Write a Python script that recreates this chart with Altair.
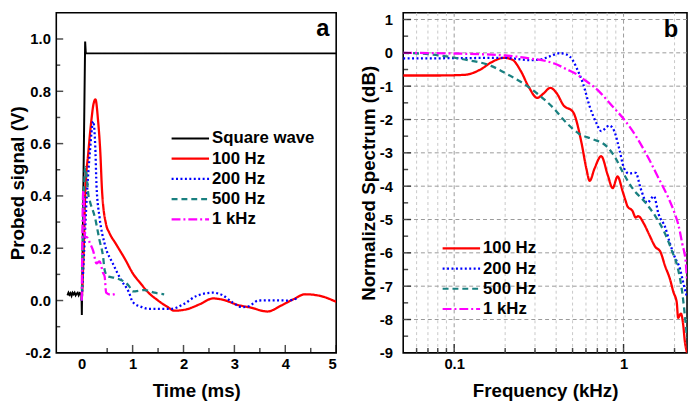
import altair as alt
import pandas as pd

FONT = "Liberation Sans"

# ---------------- Panel a data (time domain) ----------------
A_NAMES = ["Square wave", "100 Hz", "200 Hz", "500 Hz", "1 kHz"]
A_COLORS = ["#000000", "#ff0000", "#0000ff", "#1a8080", "#ff00ff"]
A_DASH = [[1, 0], [1, 0], [2, 2.5], [6, 4], [9, 3, 2, 3]]

SQ_T = [-0.28, -0.26, -0.24, -0.22, -0.2, -0.18, -0.16, -0.14, -0.12, -0.1, -0.08, -0.06, -0.04, -0.02,
        -0.005, 0.002, 0.067, 0.08, 5.0]
SQ_V = [0.02, 0.03, 0.022, 0.028, 0.018, 0.03, 0.024, 0.03, 0.02, 0.026, 0.03, 0.02, 0.028, 0.024,
        0.03, -0.055, 0.99, 0.945, 0.945]

R100_T = [0.0, 0.04, 0.067, 0.13, 0.19, 0.23, 0.27, 0.32, 0.365, 0.40, 0.48, 0.54, 0.67, 0.86, 1.0,
          1.18, 1.24, 1.5, 1.69, 1.82, 2.07, 2.32, 2.58, 2.83, 3.02, 3.34, 3.65, 3.91, 4.16, 4.39,
          4.68, 5.0]
R100_V = [0.0, 0.2, 0.40, 0.567, 0.69, 0.75, 0.769, 0.69, 0.567, 0.417, 0.29, 0.26, 0.217, 0.155,
          0.105, 0.06, 0.045, 0.0, -0.025, -0.039, -0.033, -0.014, 0.008, 0.0, -0.014, -0.028,
          -0.042, -0.02, 0.005, 0.024, 0.018, -0.005]

B200_T = [0.0, 0.05, 0.1, 0.16, 0.225, 0.27, 0.29, 0.35, 0.45, 0.61, 0.77, 0.93, 1.0, 1.18, 1.31,
          1.75, 2.0, 2.26, 2.58, 2.77, 2.96, 3.15, 3.28, 3.47, 3.79, 4.05, 4.22]
B200_V = [0.0, 0.2, 0.40, 0.567, 0.685, 0.567, 0.44, 0.318, 0.217, 0.142, 0.08, 0.03, -0.005,
          -0.025, -0.032, -0.032, -0.014, 0.018, 0.03, 0.02, -0.007, -0.025, -0.022, 0.0, 0.001,
          0.0, 0.008]

T500_T = [0.0, 0.03, 0.067, 0.1, 0.13, 0.16, 0.26, 0.35, 0.42, 0.45, 0.51, 0.67, 0.93, 1.0, 1.24,
          1.43, 1.62]
T500_V = [0.0, 0.3, 0.51, 0.467, 0.405, 0.38, 0.317, 0.23, 0.167, 0.117, 0.092, 0.086, 0.055,
          0.035, 0.04, 0.03, 0.024]

M1K_T = [0.0, 0.03, 0.067, 0.1, 0.16, 0.225, 0.29, 0.35, 0.42, 0.45, 0.48, 0.57, 0.70]
M1K_V = [0.0, 0.42, 0.242, 0.242, 0.22, 0.19, 0.142, 0.15, 0.105, 0.092, 0.03, 0.022, 0.028]

A_XTICKS = [0, 1, 2, 3, 4, 5]
A_XMINOR = [0.5, 1.5, 2.5, 3.5, 4.5]
A_YTICKS = [-0.2, 0.0, 0.2, 0.4, 0.6, 0.8, 1.0]
A_YMINOR = [-0.1, 0.1, 0.3, 0.5, 0.7, 0.9]

# ---------------- Panel b data (spectrum) ----------------
B_NAMES = ["100 Hz", "200 Hz", "500 Hz", "1 kHz"]
B_COLORS = ["#ff0000", "#0000ff", "#1a8080", "#ff00ff"]
B_DASH = [[1, 0], [2, 2.5], [6, 4], [9, 3, 2, 3]]

F100 = [0.05, 0.08, 0.115, 0.144, 0.165, 0.197, 0.221, 0.247, 0.276, 0.309, 0.337, 0.369, 0.404,
        0.44, 0.504, 0.564, 0.603, 0.631, 0.674, 0.738, 0.807, 0.862, 0.922, 0.987, 1.03, 1.054,
        1.128, 1.18, 1.22, 1.32, 1.41, 1.54, 1.65, 1.76, 1.88, 1.97, 2.06, 2.1, 2.18, 2.25, 2.3,
        2.37]
D100 = [-0.68, -0.68, -0.66, -0.49, -0.29, -0.15, -0.21, -0.54, -1.03, -1.35, -1.22, -1.05, -1.22,
        -1.56, -1.78, -2.69, -3.47, -3.84, -3.47, -3.1, -3.67, -4.06, -3.71, -4.15, -4.45, -4.6,
        -4.74, -4.94, -4.9, -5.13, -5.43, -5.82, -5.97, -6.4, -6.79, -7.18, -7.48, -7.95, -7.82,
        -8.16, -8.65, -9.0]

F200 = [0.05, 0.1, 0.2, 0.282, 0.323, 0.369, 0.422, 0.46, 0.504, 0.527, 0.577, 0.631, 0.69, 0.738,
        0.824, 0.882, 0.943, 1.008, 1.078, 1.18, 1.26, 1.38, 1.51, 1.61, 1.76, 1.88, 2.0, 2.16,
        2.25, 2.37]
D200 = [-0.17, -0.16, -0.15, -0.22, -0.2, -0.1, -0.01, -0.05, -0.24, -0.44, -0.93, -1.61, -2.1,
        -2.35, -2.18, -2.35, -2.88, -3.47, -3.62, -3.6, -4.06, -4.5, -4.3, -4.84, -5.23, -5.72,
        -6.11, -6.5, -6.89, -7.33]

F500 = [0.05, 0.074, 0.115, 0.165, 0.206, 0.258, 0.309, 0.386, 0.46, 0.551, 0.66, 0.789, 0.902,
        0.987, 1.128, 1.35, 1.54, 1.76, 1.92, 2.1, 2.22, 2.3, 2.37]
D500 = [0.0, -0.05, -0.2, -0.39, -0.64, -0.93, -1.22, -1.66, -2.1, -2.44, -2.59, -2.79, -3.18,
        -3.57, -4.06, -4.5, -4.9, -5.43, -5.91, -6.5, -7.18, -7.87, -8.55]

F1K = [0.05, 0.1, 0.2, 0.29, 0.35, 0.39, 0.46, 0.527, 0.577, 0.721, 0.862, 1.008, 1.18, 1.41,
       1.61, 1.84, 2.0, 2.1, 2.22, 2.33, 2.37]
D1K = [0.0, -0.02, -0.08, -0.18, -0.25, -0.32, -0.49, -0.64, -0.78, -1.17, -1.61, -2.0, -2.49,
       -3.18, -3.76, -4.35, -4.8, -5.13, -5.72, -6.3, -6.8]

B_XTICKS = [0.1, 1]
B_XMINOR = [0.06, 0.07, 0.08, 0.09, 0.2, 0.3, 0.4, 0.5, 0.6, 0.7, 0.8, 0.9, 2]
B_YTICKS = [-9, -8, -7, -6, -5, -4, -3, -2, -1, 0, 1]
B_YGRID = [-8, -7, -6, -5, -4, -3, -2, -1, 0, 1]
B_YMINOR = [-8.5, -7.5, -6.5, -5.5, -4.5, -3.5, -2.5, -1.5, -0.5, 0.5]


def long_df(names, xs, ys, xn, yn):
    frames = []
    for n, x, y in zip(names, xs, ys):
        frames.append(pd.DataFrame({xn: x, yn: y, "series": n}))
    return pd.concat(frames, ignore_index=True)


df_a = long_df(A_NAMES, [SQ_T, R100_T, B200_T, T500_T, M1K_T], [SQ_V, R100_V, B200_V, T500_V, M1K_V], "t", "v")
df_b = long_df(B_NAMES, [F100, F200, F500, F1K], [D100, D200, D500, D1K], "f", "d")

W_A, W_B, H = 284, 288, 345
MINUS = "\u2212"

XA = alt.Scale(domain=[-0.5, 5], nice=False, zero=False)
YA = alt.Scale(domain=[-0.2, 1.1], nice=False, zero=False)
XB = alt.Scale(type="log", domain=[0.05, 2.37], nice=False)
YB = alt.Scale(domain=[-9, 1.2], nice=False, zero=False)

AX_XA = alt.Axis(values=A_XTICKS, format="d", title="Time (ms)", labelPadding=4, titlePadding=10)
AX_YA = alt.Axis(values=A_YTICKS, title="Probed signal (V)",
                 labelExpr="replace(format(datum.value, '.1f'), '" + MINUS + "', '-')",
                 labelPadding=6, titlePadding=-3)
AX_XB = alt.Axis(values=B_XTICKS, format="~g", title="Frequency (kHz)", labelPadding=4, titlePadding=10)
AX_YB = alt.Axis(values=B_YTICKS, format="d", title="Normalized Spectrum (dB)",
                 labelExpr="replace(datum.label, '" + MINUS + "', '-')",
                 labelPadding=11, titlePadding=1)

# legend: a custom horizontal path twice as long as sqrt(symbolSize) keeps the rows tight
SYM = 361  # sqrt = 19 -> line length 38


def legend(x, y):
    return alt.Legend(title=None, orient="none", legendX=x, legendY=y, symbolType="M-2,0H2",
                      symbolSize=SYM, symbolStrokeWidth=2.2, symbolOffset=4,
                      labelFontSize=17, labelFontWeight="bold", labelFont=FONT, labelColor="black",
                      rowPadding=1.5, labelOffset=11, padding=0)


def xticks(vals, field, scale, axis, length):
    return alt.Chart(pd.DataFrame({field: vals})).mark_tick(
        orient="vertical", size=length, thickness=1.5, color="black").encode(
        x=alt.X(field + ":Q", scale=scale, axis=axis), y=alt.value(H - length / 2))


def yticks(vals, field, scale, axis, length):
    return alt.Chart(pd.DataFrame({field: vals})).mark_tick(
        orient="horizontal", size=length, thickness=1.5, color="black").encode(
        y=alt.Y(field + ":Q", scale=scale, axis=axis), x=alt.value(length / 2))


# ---------------- Panel a ----------------
leg_a = legend(121, 116.5)
enc_a = dict(
    x=alt.X("t:Q", scale=XA, axis=AX_XA),
    y=alt.Y("v:Q", scale=YA, axis=AX_YA),
    color=alt.Color("series:N", scale=alt.Scale(domain=A_NAMES, range=A_COLORS), sort=A_NAMES, legend=leg_a),
    strokeDash=alt.StrokeDash("series:N", scale=alt.Scale(domain=A_NAMES, range=A_DASH), sort=A_NAMES, legend=leg_a),
)
square_a = alt.Chart(df_a).transform_filter(alt.datum.series == "Square wave").mark_line(
    strokeWidth=2, clip=True).encode(**enc_a)
curves_a = alt.Chart(df_a).transform_filter(alt.datum.series != "Square wave").mark_line(
    strokeWidth=2.3, clip=True, interpolate="monotone").encode(**enc_a)

lab_a = alt.Chart(pd.DataFrame({"lab": ["a"]})).mark_text(
    align="right", baseline="alphabetic", fontSize=24, fontWeight="bold", font=FONT, color="black"
).encode(text="lab:N", x=alt.value(W_A - 7), y=alt.value(24))

panel_a = alt.layer(
    square_a, curves_a,
    xticks(A_XTICKS[1:], "t", XA, AX_XA, 8), xticks(A_XMINOR, "t", XA, AX_XA, 5),
    yticks(A_YTICKS[1:], "v", YA, AX_YA, 7), yticks(A_YMINOR, "v", YA, AX_YA, 4),
    lab_a,
).properties(width=W_A, height=H)

# ---------------- Panel b ----------------
leg_b = legend(44, 228)
grid_minor = alt.Chart(pd.DataFrame({"f": B_XMINOR})).mark_rule(
    color="#c8c8c8", strokeWidth=1, strokeDash=[3, 3]).encode(x=alt.X("f:Q", scale=XB, axis=AX_XB))
grid_major = alt.Chart(pd.DataFrame({"f": B_XTICKS})).mark_rule(
    color="#999999", strokeWidth=1, strokeDash=[4, 3]).encode(x=alt.X("f:Q", scale=XB, axis=AX_XB))
grid_y = alt.Chart(pd.DataFrame({"d": B_YGRID})).mark_rule(
    color="#999999", strokeWidth=1, strokeDash=[4, 3]).encode(y=alt.Y("d:Q", scale=YB, axis=AX_YB))

lines_b = alt.Chart(df_b).mark_line(strokeWidth=2.3, clip=True, interpolate="monotone").encode(
    x=alt.X("f:Q", scale=XB, axis=AX_XB),
    y=alt.Y("d:Q", scale=YB, axis=AX_YB),
    color=alt.Color("series:N", scale=alt.Scale(domain=B_NAMES, range=B_COLORS), sort=B_NAMES, legend=leg_b),
    strokeDash=alt.StrokeDash("series:N", scale=alt.Scale(domain=B_NAMES, range=B_DASH), sort=B_NAMES, legend=leg_b),
)

lab_b = alt.Chart(pd.DataFrame({"lab": ["b"]})).mark_text(
    align="right", baseline="alphabetic", fontSize=24, fontWeight="bold", font=FONT, color="black"
).encode(text="lab:N", x=alt.value(W_B - 9), y=alt.value(25))

panel_b = alt.layer(
    grid_minor, grid_major, grid_y,
    lines_b,
    xticks(B_XTICKS, "f", XB, AX_XB, 9), xticks(B_XMINOR, "f", XB, AX_XB, 5),
    yticks(B_YTICKS[1:], "d", YB, AX_YB, 8), yticks(B_YMINOR, "d", YB, AX_YB, 5),
    lab_b,
).properties(width=W_B, height=H)

chart = alt.hconcat(panel_a, panel_b, spacing=20).resolve_scale(
    color="independent", strokeDash="independent", x="independent", y="independent"
).resolve_legend(color="independent", strokeDash="independent").properties(
    padding=0
).configure_view(
    stroke="black", strokeWidth=1.6
).configure_axis(
    labelFont=FONT, labelFontSize=15, labelFontWeight="bold", labelColor="black",
    titleFont=FONT, titleFontSize=19, titleFontWeight="bold", titleColor="black",
    ticks=False, domain=False, grid=False
)

chart.save("out.html", embed_options={"renderer": "svg", "actions": False})
